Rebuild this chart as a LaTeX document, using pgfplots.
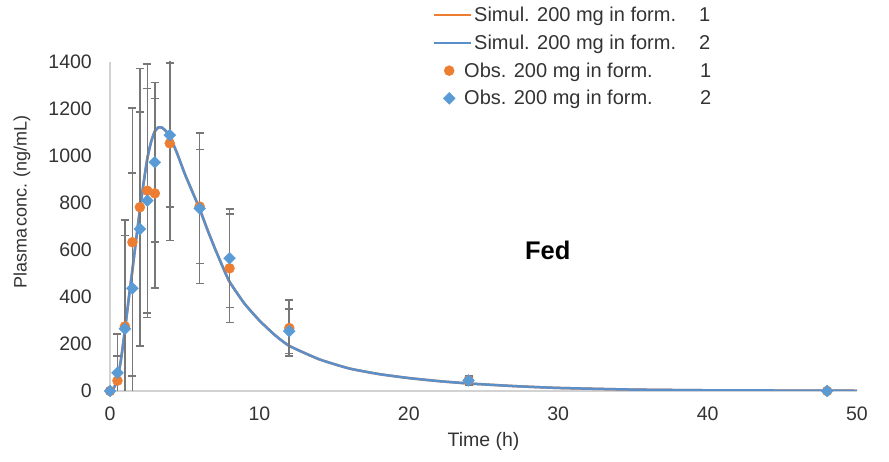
\documentclass[border=0pt]{standalone}
\usepackage{pgfplots}
\pgfplotsset{compat=1.18}
\usepackage{fontspec}
\setmainfont{Liberation Sans}

\definecolor{xlorange}{HTML}{ED7D31}
\definecolor{xlblue}{HTML}{5B9BD5}
\definecolor{curveblue}{HTML}{5B8FC9}
\definecolor{errgray}{HTML}{777777}

\pgfplotsset{
  simleg/.style={legend image code/.code={\draw[##1, line width=2pt] (0pt,0pt) -- (37pt,0pt);}},
  obsleg/.style={legend image code/.code={\draw[mark repeat=2, mark phase=2, ##1] plot coordinates {(0pt,0pt)(15pt,0pt)(30pt,0pt)};}},
}

\begin{document}
\begin{tikzpicture}
\useasboundingbox (-110pt,-71pt) rectangle (779pt,391pt);
\begin{axis}[
  scale only axis,
  width=747pt, height=329pt,
  xmin=0, xmax=50, ymin=0, ymax=1400,
  xtick={0,10,20,30,40,50},
  ytick={0,200,400,600,800,1000,1200,1400},
  axis x line*=bottom, axis y line*=left,
  axis line style={-, draw=gray!35, line width=1.2pt},
  major tick length=0pt,
  tick style={draw=none},
  font=\fontsize{19.5}{23}\selectfont,
  /pgf/number format/assume math mode=true,
  /pgf/number format/1000 sep={},
  xticklabel style={inner sep=0pt, yshift=-15.5pt, text=black!80},
  yticklabel style={inner sep=0pt, xshift=-18pt, text=black!80},
  xlabel={Time (h)},
  ylabel={Plasma\hspace{2pt}conc. (ng/mL)},
  every axis x label/.style={at={(axis description cs:0.5,-0.152)}, anchor=center, text=black!80},
  every axis y label/.style={at={(axis description cs:-0.1178,0.5745)}, rotate=90, anchor=center,
    text=black!80, font=\fontsize{18}{21}\selectfont},
  legend cell align=left,
  legend style={at={(axis description cs:0.4324,1.1669)}, anchor=north west,
    draw=none, fill=none, inner sep=0pt, row sep=11.7pt, column sep=2pt,
    nodes={inner sep=0pt, text=black!80},
    font=\fontsize{20}{24}\selectfont},
  error bars/y dir=both, error bars/y explicit,
  error bars/error mark=-,
  error bars/error bar style={errgray, line width=1.6pt},
  error bars/error mark options={rotate=90, errgray, mark size=4pt, line width=1.6pt},
]
% simulated profiles (form. 1 lies under form. 2)
\addplot[xlorange, line width=2.5pt, smooth, tension=0.3, no marks, error bars/y dir=none, simleg]
  coordinates {
  (0,0)(0.25,12)(0.5,50)(0.75,140)(1,260)(1.25,390)(1.5,515)(1.75,645)(2,770)
  (2.25,885)(2.5,990)(2.75,1060)(3,1105)(3.25,1122)(3.5,1120)(3.75,1106)(4,1085)
  (4.5,1010)(5,925)(5.5,850)(6,775)(6.5,690)(7,610)(7.5,535)(8,465)(9,372)(10,300)
  (11,240)(12,192)(14,135)(16,96)(18,72)(20,55)(22,42)(24,32)(27,21)(30,13)(35,6)
  (40,3)(45,2)(50,1)};
\addlegendentry{\makebox[225pt][l]{Simul. 200 mg in form.}1}
\addplot[curveblue, line width=2.5pt, smooth, tension=0.3, no marks, error bars/y dir=none, simleg]
  coordinates {
  (0,0)(0.25,12)(0.5,50)(0.75,140)(1,260)(1.25,390)(1.5,515)(1.75,645)(2,770)
  (2.25,885)(2.5,990)(2.75,1060)(3,1105)(3.25,1122)(3.5,1120)(3.75,1106)(4,1085)
  (4.5,1010)(5,925)(5.5,850)(6,775)(6.5,690)(7,610)(7.5,535)(8,465)(9,372)(10,300)
  (11,240)(12,192)(14,135)(16,96)(18,72)(20,55)(22,42)(24,32)(27,21)(30,13)(35,6)
  (40,3)(45,2)(50,1)};
\addlegendentry{\makebox[225pt][l]{Simul. 200 mg in form.}2}
% observed, form. 1
\addplot[only marks, mark=*, mark size=5pt, mark options={fill=xlorange, draw=xlorange}, obsleg]
  coordinates {
  (0,0) +- (0,0)
  (0.5,44) +- (0,106)
  (1,275) +- (0,386)
  (1.5,633) +- (0,570)
  (2,782) +- (0,591)
  (2.5,852) +- (0,539)
  (3,841) +- (0,404)
  (4,1054) +- (0,413)
  (6,785) +- (0,243)
  (8,522) +- (0,230)
  (12,268) +- (0,120)
  (24,45) +- (0,15)
  (48,0) +- (0,0)};
\addlegendentry{\hspace{-10pt}\makebox[236pt][l]{Obs. 200 mg in form.}1}
% observed, form. 2
\addplot[only marks, mark=square*, mark size=4.2pt, mark options={rotate=45, fill=xlblue, draw=xlblue}, obsleg]
  coordinates {
  (0,0) +- (0,0)
  (0.5,77) +- (0,166)
  (1,265) +- (0,462)
  (1.5,437) +- (0,491)
  (2,689) +- (0,497)
  (2.5,810) +- (0,478)
  (3,973) +- (0,340)
  (4,1089) +- (0,306)
  (6,777) +- (0,320)
  (8,565) +- (0,210)
  (12,255) +- (0,95)
  (24,45) +- (0,20)
  (48,0) +- (0,0)};
\addlegendentry{\hspace{-10pt}\makebox[236pt][l]{Obs. 200 mg in form.}2}
\node[font=\fontsize{25.5}{30}\selectfont\bfseries] at (axis cs:29.3,597) {Fed};
\end{axis}
\end{tikzpicture}
\end{document}
